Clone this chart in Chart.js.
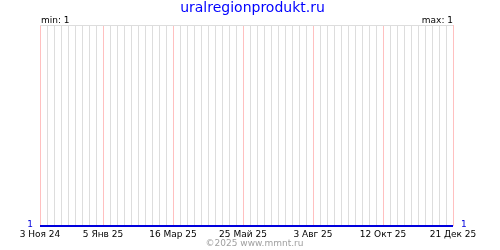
<!DOCTYPE html>
<html>
<head>
<meta charset="utf-8">
<script src="https://cdn.jsdelivr.net/npm/chart.js@4/dist/chart.umd.min.js"></script>
<style>
html,body{margin:0;padding:0;background:#fff;}
#c{display:block;}
</style>
</head>
<body>
<canvas id="c" width="500" height="250"></canvas>
<script>
// ---- data ----
const siteTitle = 'uralregionprodukt.ru';
const copyright = '©2025 www.mmnt.ru';
const startDate = '2024-11-03';
const endDate = '2025-12-21';
const categories = ['2024-11-03','2025-01-05','2025-03-16','2025-05-25','2025-08-03','2025-10-12','2025-12-21'];
const tickLabels = ['3 Ноя 24','5 Янв 25','16 Мар 25','25 Май 25','3 Авг 25','12 Окт 25','21 Дек 25'];
const values = [1,1,1,1,1,1,1];

const DAY = 86400000;
const dayOf = s => Math.round((Date.parse(s + 'T00:00:00Z') - Date.parse(startDate + 'T00:00:00Z')) / DAY);
const totalDays = dayOf(endDate);
const labelDays = categories.map(dayOf);
const vMin = Math.min(...values), vMax = Math.max(...values);

// weekly grid lines, pink at labelled dates
const gridDays = [];
for (let d = 0; d <= totalDays; d += 7) gridDays.push(d);
const gridColors = gridDays.map(d => labelDays.indexOf(d) >= 0 ? '#ffc0c0' : '#dddddd');

const FONT = '"DejaVu Sans", Verdana, sans-serif';

const textPlugin = {
  id: 'texts',
  beforeDraw(chart) {
    const ctx = chart.ctx;
    ctx.save();
    ctx.fillStyle = '#ffffff';
    ctx.fillRect(0, 0, chart.width, chart.height);
    ctx.restore();
  },
  afterDraw(chart) {
    const ctx = chart.ctx, a = chart.chartArea;
    ctx.save();
    ctx.textBaseline = 'alphabetic';
    ctx.font = '14px ' + FONT;
    ctx.fillStyle = '#0000ff';
    ctx.textAlign = 'center';
    ctx.fillText(siteTitle, 252.5, 12);
    ctx.font = '9px ' + FONT;
    ctx.fillStyle = '#000';
    ctx.textAlign = 'left';
    ctx.fillText('min: ' + vMin, a.left + 1, 23);
    ctx.textAlign = 'right';
    ctx.fillText('max: ' + vMax, a.right, 23);
    ctx.fillStyle = '#0000dd';
    ctx.textAlign = 'right';
    ctx.fillText(String(values[0]), a.left - 7, 227);
    ctx.textAlign = 'left';
    ctx.fillText(String(values[values.length - 1]), a.right + 8, 227);
    ctx.fillStyle = '#a0a0a0';
    ctx.textAlign = 'center';
    ctx.fillText(copyright, 254.5, 246);
    ctx.restore();
  }
};

new Chart(document.getElementById('c'), {
  type: 'line',
  data: {
    datasets: [{
      data: categories.map((d, i) => ({ x: dayOf(d), y: values[i] })),
      borderColor: '#0000dd',
      borderWidth: 2,
      pointRadius: 0,
      fill: false,
      tension: 0,
      clip: 4
    }]
  },
  options: {
    responsive: false,
    animation: false,
    devicePixelRatio: 1,
    layout: { padding: { left: 40, right: 47, top: 25, bottom: 0 } },
    plugins: { legend: { display: false }, tooltip: { enabled: false }, title: { display: false } },
    scales: {
      x: {
        type: 'linear',
        min: 0,
        max: totalDays,
        afterBuildTicks(scale) {
          scale.ticks = gridDays.map(d => ({ value: d }));
        },
        afterFit(scale) { scale.height = 24; },
        border: { display: false },
        grid: {
          drawTicks: false,
          lineWidth: 1,
          color: gridColors
        },
        ticks: {
          autoSkip: false,
          maxRotation: 0,
          padding: 3,
          color: '#000',
          font: { family: FONT, size: 9 },
          callback: v => { const i = labelDays.indexOf(v); return i >= 0 ? tickLabels[i] : ''; }
        }
      },
      y: {
        min: vMin,
        max: vMin + 1,
        afterBuildTicks(scale) { scale.ticks = [{ value: vMin + 1 }]; },
        afterFit(scale) { scale.width = 0; },
        border: { display: false },
        grid: { drawTicks: false, color: '#dddddd', lineWidth: 1 },
        ticks: { display: false }
      }
    }
  },
  plugins: [textPlugin]
});
</script>
</body>
</html>
